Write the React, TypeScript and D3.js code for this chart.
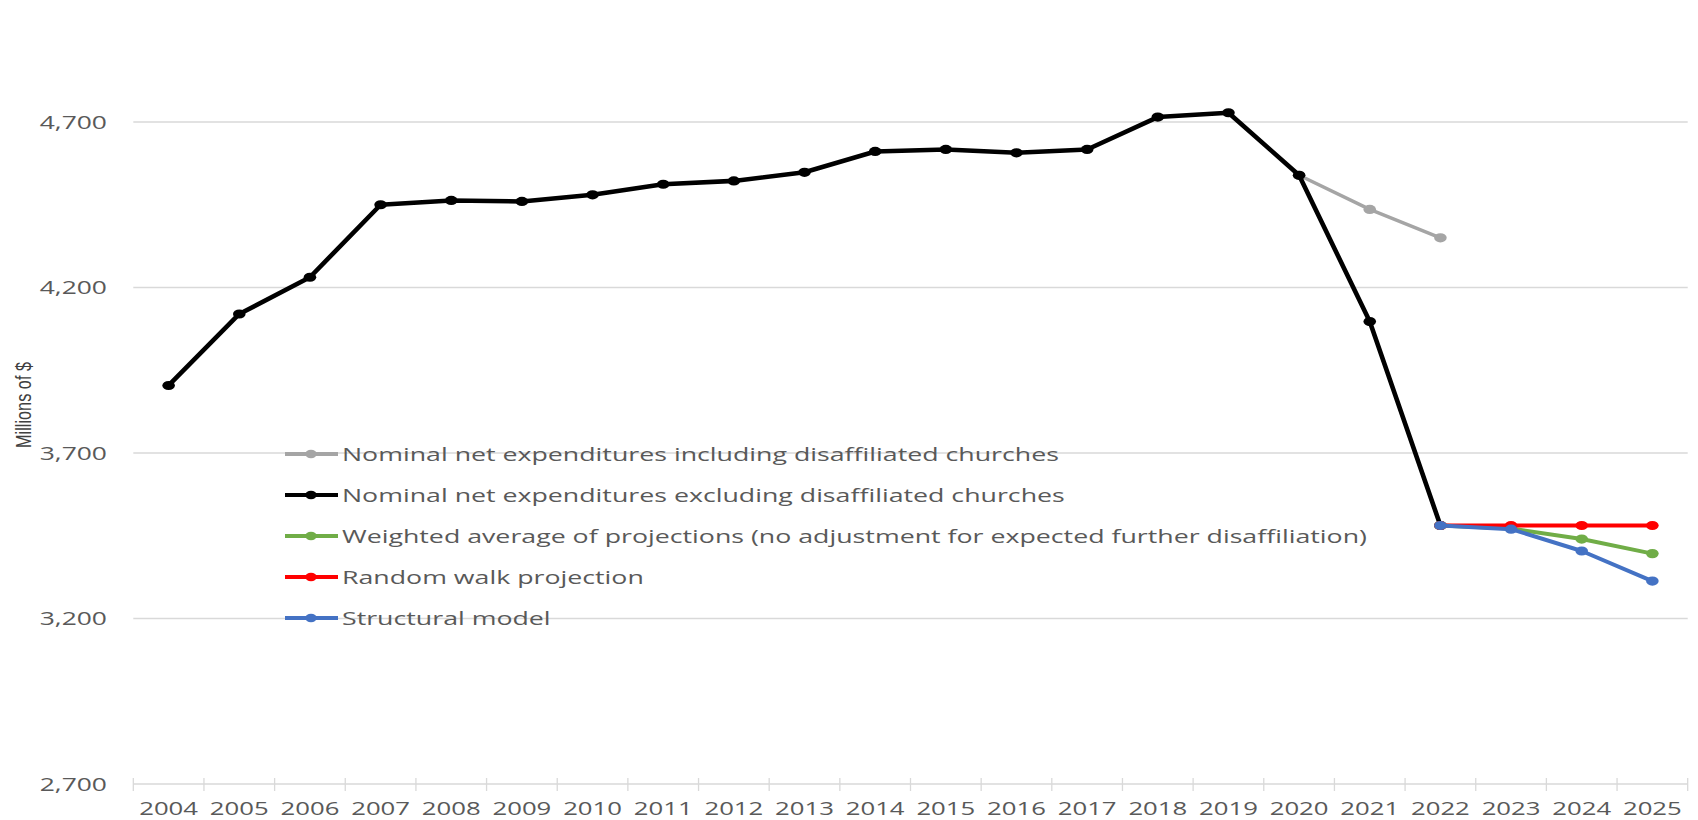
import React from "react";
import * as d3 from "d3";

const years = ["2004","2005","2006","2007","2008","2009","2010","2011","2012","2013","2014","2015","2016","2017","2018","2019","2020","2021","2022","2023","2024","2025"];
const yTicks = [2700, 3200, 3700, 4200, 4700];

const includingYears = ["2020", "2021", "2022"];
const includingValues = [4539, 4436, 4350];

const excludingYears = ["2004","2005","2006","2007","2008","2009","2010","2011","2012","2013","2014","2015","2016","2017","2018","2019","2020","2021","2022"];
const excludingValues = [3904, 4120, 4231, 4450, 4463, 4460, 4480, 4512, 4522, 4548, 4611, 4617, 4607, 4617, 4715, 4728, 4539, 4097, 3481];

const projYears = ["2022", "2023", "2024", "2025"];
const weightedValues = [3481, 3472, 3440, 3396];
const randomWalkValues = [3481, 3481, 3481, 3481];
const structuralValues = [3481, 3470, 3404, 3313];

const seriesNames = [
  "Nominal net expenditures including disaffiliated churches",
  "Nominal net expenditures excluding disaffiliated churches",
  "Weighted average of projections (no adjustment for expected further disaffiliation)",
  "Random walk projection",
  "Structural model",
];
const seriesColors = ["#a5a5a5", "#000000", "#70ad47", "#ff0000", "#4472c4"];

const W = 1698;
const H = 820;
const S = 1.43; // horizontal stretch of the reference
const FONT = "'Open Sans', 'Noto Sans', sans-serif";
const TEXT = "#595959";

export default function App() {
  const x = d3.scaleBand<string>().domain(years).range([133.3, 1687.7]).paddingInner(0).paddingOuter(0);
  const cx = (yr: string) => (x(yr) as number) + x.bandwidth() / 2;
  const y = d3.scaleLinear().domain([2700, 4700]).range([784, 122]);

  const line = d3.line<[string, number]>().x((d) => cx(d[0])).y((d) => y(d[1]));

  const series = [
    { xs: includingYears, vs: includingValues, w: 3.5 },
    { xs: excludingYears, vs: excludingValues, w: 4.6 },
    { xs: projYears, vs: weightedValues, w: 4 },
    { xs: projYears, vs: randomWalkValues, w: 4 },
    { xs: projYears, vs: structuralValues, w: 4 },
  ];

  const legendY0 = 454;
  const legendStep = 41;

  return (
    <svg width={W} height={H} style={{ position: "absolute", left: 0, top: 0, background: "#fff" }}>
      {yTicks.map((t) => (
        <line key={t} x1={133.3} x2={1687.7} y1={y(t)} y2={y(t)} stroke="#d9d9d9" strokeWidth={1.3} />
      ))}
      {years.map((yr) => (
        <line key={"t" + yr} x1={x(yr)} x2={x(yr)} y1={778} y2={791} stroke="#d9d9d9" strokeWidth={1.3} />
      ))}
      <line x1={1687.7} x2={1687.7} y1={778} y2={791} stroke="#d9d9d9" strokeWidth={1.3} />
      {yTicks.map((t) => (
        <text
          key={"yl" + t}
          transform={`translate(107,${y(t)}) scale(${S},1)`}
          textAnchor="end"
          dominantBaseline="central"
          fontFamily={FONT}
          fontSize={18.5}
          fill={TEXT}
        >
          {d3.format(",")(t)}
        </text>
      ))}
      {years.map((yr) => (
        <text
          key={"xl" + yr}
          transform={`translate(${cx(yr)},808) scale(${S},1)`}
          textAnchor="middle"
          dominantBaseline="central"
          fontFamily={FONT}
          fontSize={18}
          fill={TEXT}
        >
          {yr}
        </text>
      ))}
      <text
        transform={`translate(23,405) scale(${S},1) rotate(-90)`}
        textAnchor="middle"
        dominantBaseline="central"
        fontFamily="'Liberation Sans Narrow', 'Liberation Sans', sans-serif"
        fontSize={15}
        fill="#404040"
        textLength={86}
        lengthAdjust="spacingAndGlyphs"
      >
        Millions of $
      </text>
      {series.map((s, i) => {
        const pts: [string, number][] = s.xs.map((xx, j) => [xx, s.vs[j]]);
        return (
          <g key={"s" + i}>
            <path d={line(pts) as string} fill="none" stroke={seriesColors[i]} strokeWidth={s.w} strokeLinejoin="round" />
            {pts.map((p, j) => (
              <ellipse key={j} cx={cx(p[0])} cy={y(p[1])} rx={6.3} ry={4.6} fill={seriesColors[i]} />
            ))}
          </g>
        );
      })}
      {seriesNames.map((n, i) => {
        const ly = legendY0 + i * legendStep;
        return (
          <g key={"lg" + i}>
            <line x1={285} x2={338} y1={ly} y2={ly} stroke={seriesColors[i]} strokeWidth={4} />
            <ellipse cx={311} cy={ly} rx={5.8} ry={4.2} fill={seriesColors[i]} />
            <text
              transform={`translate(342,${ly}) scale(${S},1)`}
              dominantBaseline="central"
              fontFamily={FONT}
              fontSize={18.7}
              fill={TEXT}
            >
              {n}
            </text>
          </g>
        );
      })}
    </svg>
  );
}
